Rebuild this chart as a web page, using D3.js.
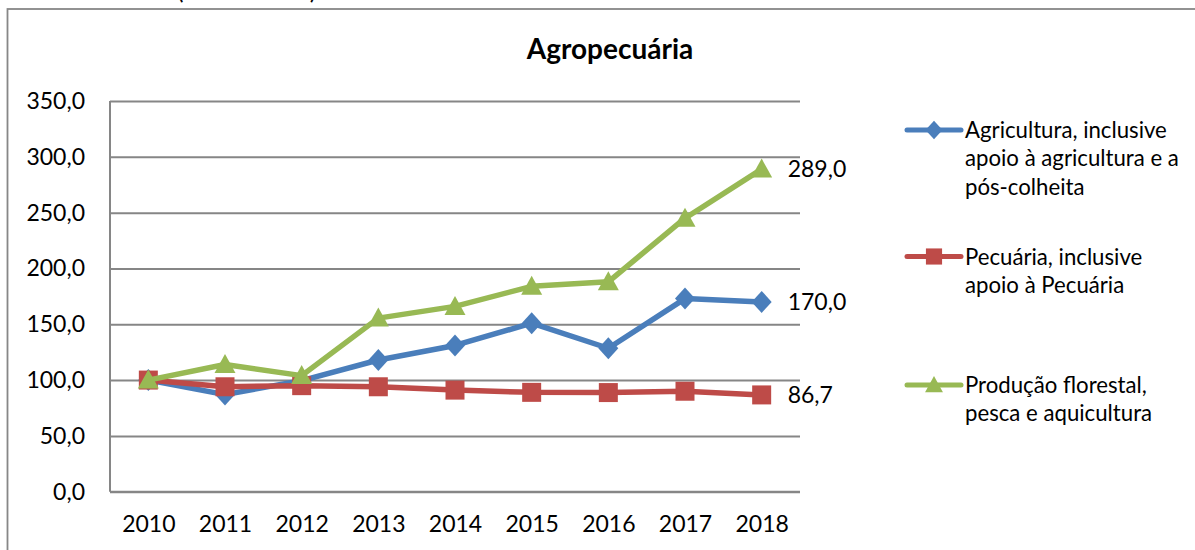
<!DOCTYPE html>
<html>
<head>
<meta charset="utf-8">
<script src="https://cdn.jsdelivr.net/npm/d3@7"></script>
<style>
  html, body { margin: 0; padding: 0; background: #fff; }
  svg { display: block; font-family: Lato, "Open Sans", sans-serif; }
</style>
</head>
<body>
<svg id="chart" width="1195" height="550"></svg>
<script>
const title = "Agropecuária";
const years = ["2010", "2011", "2012", "2013", "2014", "2015", "2016", "2017", "2018"];
const agricultura = [100, 87, 99.5, 118, 131, 151, 128.5, 173, 170.0];
const pecuaria = [100, 94, 95, 94, 91, 89, 88.8, 90, 86.7];
const florestal = [100, 114, 104, 155.5, 166, 184, 188, 245, 289.0];
const seriesNames = [
  ["Agricultura, inclusive", "apoio à agricultura e a", "pós-colheita"],
  ["Pecuária, inclusive", "apoio à Pecuária"],
  ["Produção florestal,", "pesca e aquicultura"]
];
const yTicks = [0, 50, 100, 150, 200, 250, 300, 350];
const lastLabels = ["170,0", "86,7", "289,0"];

const series = [
  { name: seriesNames[0], values: agricultura, color: "#4A7EBB", marker: "diamond", label: lastLabels[0] },
  { name: seriesNames[1], values: pecuaria, color: "#BE4B48", marker: "square", label: lastLabels[1] },
  { name: seriesNames[2], values: florestal, color: "#98B954", marker: "triangle", label: lastLabels[2] }
];

const svg = d3.select("#chart");
const plot = { left: 110, right: 800, top: 101, bottom: 491.7 };

const x = d3.scalePoint().domain(years).range([plot.left, plot.right]).padding(0.5);
const y = d3.scaleLinear().domain([0, 350]).range([plot.bottom, plot.top]);
const fmt = v => d3.format(".1f")(v).replace(".", ",");

// partially visible text at top (cut off in the reference too)
svg.append("text").attr("x", 177).attr("y", -1.5)
  .attr("font-size", 24.5).attr("fill", "#000").text("(2010 = 100)");

// outer frame
svg.append("rect").attr("x", 7.5).attr("y", 9).attr("width", 1200).attr("height", 560)
  .attr("fill", "none").attr("stroke", "#878787").attr("stroke-width", 1.8);

// title
svg.append("text").attr("x", 610).attr("y", 59).attr("text-anchor", "middle")
  .attr("font-size", 28).attr("font-weight", "bold").attr("fill", "#000").text(title);

// gridlines
const yAxis = d3.axisLeft(y).tickValues(yTicks).tickSize(-(plot.right - plot.left)).tickFormat(fmt).tickPadding(25);
const gy = svg.append("g").attr("transform", `translate(${plot.left},0)`).call(yAxis);
gy.select(".domain").remove();
gy.selectAll(".tick line").attr("stroke", "#868686").attr("stroke-width", 2);
gy.selectAll(".tick text").attr("font-size", 23).attr("fill", "#000")
  .attr("font-family", "Lato, sans-serif");

// left axis line
svg.append("line").attr("x1", plot.left).attr("x2", plot.left).attr("y1", plot.top).attr("y2", plot.bottom)
  .attr("stroke", "#868686").attr("stroke-width", 2);

// x axis
const xAxis = d3.axisBottom(x).tickSize(0).tickPadding(24);
const gx = svg.append("g").attr("transform", `translate(0,${plot.bottom})`).call(xAxis);
gx.select(".domain").remove();
gx.selectAll(".tick text").attr("font-size", 23).attr("fill", "#000")
  .attr("font-family", "Lato, sans-serif");
svg.append("line").attr("x1", plot.left).attr("x2", plot.right).attr("y1", plot.bottom).attr("y2", plot.bottom)
  .attr("stroke", "#868686").attr("stroke-width", 2);

function markerPath(type) {
  if (type === "diamond") return "M0,-11L10,0L0,11L-10,0Z";
  if (type === "square") return "M-9.5,-9.5H9.5V9.5H-9.5Z";
  return "M0,-10.5L10.5,8.5H-10.5Z";
}

const line = d3.line().x((d, i) => x(years[i])).y(d => y(d));

series.forEach(s => {
  svg.append("path").datum(s.values).attr("d", line)
    .attr("fill", "none").attr("stroke", s.color).attr("stroke-width", 5.5)
    .attr("stroke-linejoin", "round");
  svg.append("g").selectAll("path").data(s.values).join("path")
    .attr("transform", (d, i) => `translate(${x(years[i])},${y(d)})`)
    .attr("d", markerPath(s.marker)).attr("fill", s.color);
  const last = s.values[s.values.length - 1];
  svg.append("text").attr("x", x(years[years.length - 1]) + 26).attr("y", y(last))
    .attr("dy", "0.35em").attr("font-size", 23).attr("fill", "#000").text(s.label);
});

// legend
const legendY = [130, 256.5, 385];
series.forEach((s, k) => {
  const g = svg.append("g").attr("transform", `translate(0,${legendY[k]})`);
  g.append("line").attr("x1", 907).attr("x2", 961).attr("y1", 0).attr("y2", 0)
    .attr("stroke", s.color).attr("stroke-width", 5).attr("stroke-linecap", "round");
  g.append("path").attr("d", markerPath(s.marker)).attr("fill", s.color)
    .attr("transform", "translate(934,0) scale(0.85)");
  const t = g.append("text").attr("x", 965).attr("y", 8).attr("font-size", 22.2).attr("fill", "#000");
  s.name.forEach((ln, j) => {
    t.append("tspan").attr("x", 965).attr("y", 8 + j * 28.3).text(ln);
  });
});
</script>
</body>
</html>
